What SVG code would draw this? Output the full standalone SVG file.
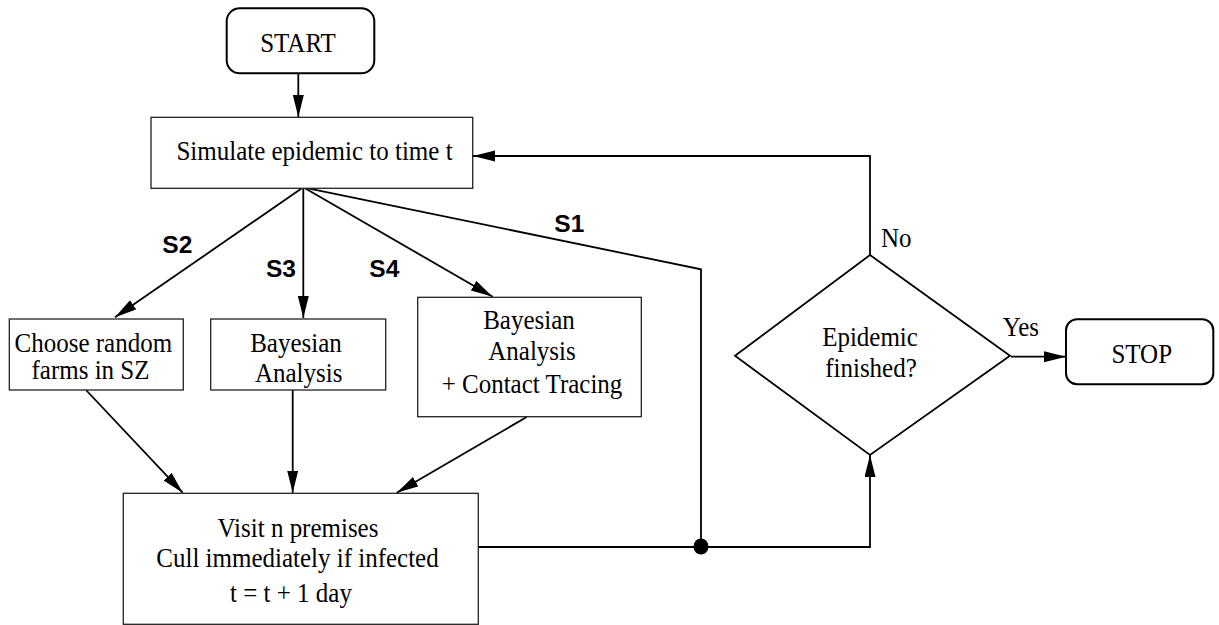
<svg xmlns="http://www.w3.org/2000/svg" width="1219" height="625" viewBox="0 0 1219 625">
<defs>
<marker id="arr" markerUnits="userSpaceOnUse" markerWidth="23" markerHeight="12" refX="22" refY="5.5" orient="auto">
<path d="M0,0 L22,5.5 L0,11 z" fill="#000"/>
</marker>
</defs>
<style>
.box{fill:#fff;stroke:#222;stroke-width:1.3}
.rbox{fill:#fff;stroke:#000;stroke-width:2}
.dia{fill:#fff;stroke:#000;stroke-width:1.8}
.t{font-family:"Liberation Serif","Times New Roman",serif;font-size:25px;fill:#000;text-anchor:middle}
.ts{font-family:"Liberation Serif","Times New Roman",serif;font-size:25px;fill:#000}
.lab{font-family:"Liberation Sans",Arial,sans-serif;font-size:24.5px;font-weight:bold;fill:#000}
.c{fill:none;stroke:#000;stroke-width:1.8}
</style>
<rect width="1219" height="625" fill="#fff"/>
<g id="connectors">
<path class="c" d="M298.3,73.3 V117" marker-end="url(#arr)"/>
<path class="c" d="M303.3,187.3 L115,317.3" marker-end="url(#arr)"/>
<path class="c" d="M303.3,187.3 V318" marker-end="url(#arr)"/>
<path class="c" d="M303.3,187.3 L492.7,296.7" marker-end="url(#arr)"/>
<path class="c" d="M303.3,187.3 L701,269.3 V547"/>
<path class="c" d="M86,390 L182.7,492.7" marker-end="url(#arr)"/>
<path class="c" d="M292.7,390 V492.7" marker-end="url(#arr)"/>
<path class="c" d="M526.7,417 L396.7,492.7" marker-end="url(#arr)"/>
<path class="c" d="M478,547 H870 V455" marker-end="url(#arr)"/>
<path class="c" d="M870,255 V156 H473" marker-end="url(#arr)"/>
<path class="c" d="M1011,356.7 H1066" marker-end="url(#arr)"/>
<ellipse cx="701" cy="546.5" rx="7.5" ry="8" fill="#000"/>
<text class="lab" x="162.3" y="253.3">S2</text>
<text class="lab" x="266" y="276.7">S3</text>
<text class="lab" x="369.3" y="276.7">S4</text>
<text class="lab" x="554.3" y="231.7">S1</text>
<text class="ts" transform="translate(881,247.3) scale(1,1.08)">No</text>
<text class="ts" transform="translate(1002.7,336) scale(1,1.08)">Yes</text>
</g>
<g id="start">
<rect class="rbox" x="226.7" y="8.3" width="147.6" height="65" rx="13"/>
<text class="t" transform="translate(298,51.7) scale(1,1.08)">START</text>
</g>
<g id="simulate">
<rect class="box" x="151" y="117.3" width="321.7" height="71"/>
<text class="t" transform="translate(314.5,160) scale(1,1.08)">Simulate epidemic to time t</text>
</g>
<g id="choose">
<rect class="box" x="9.3" y="319" width="174" height="71"/>
<text class="t" transform="translate(93.3,351.7) scale(1,1.08)">Choose random</text>
<text class="t" transform="translate(90.5,379) scale(1,1.08)">farms in SZ</text>
</g>
<g id="bayes">
<rect class="box" x="210.7" y="319" width="175" height="71"/>
<text class="t" transform="translate(296,351.7) scale(1,1.08)">Bayesian</text>
<text class="t" transform="translate(298.7,382) scale(1,1.08)">Analysis</text>
</g>
<g id="bayesct">
<rect class="box" x="417.7" y="297.3" width="223.6" height="119.4"/>
<text class="t" transform="translate(529,329) scale(1,1.08)">Bayesian</text>
<text class="t" transform="translate(532,360) scale(1,1.08)">Analysis</text>
<text class="t" transform="translate(532,393.3) scale(1,1.08)">+ Contact Tracing</text>
</g>
<g id="visit">
<rect class="box" x="123.3" y="493.3" width="355" height="131"/>
<text class="t" transform="translate(298,536.7) scale(1,1.08)">Visit n premises</text>
<text class="t" transform="translate(297.5,567.3) scale(1,1.08)">Cull immediately if infected</text>
<text class="t" transform="translate(291,601.5) scale(1,1.08)">t = t + 1 day</text>
</g>
<g id="decision">
<polygon class="dia" points="870,255 1010,355.7 870,455 735,355.7"/>
<text class="t" transform="translate(870,345.7) scale(1,1.08)">Epidemic</text>
<text class="t" transform="translate(871,376.7) scale(1,1.08)">finished?</text>
</g>
<g id="stop">
<rect class="rbox" x="1066" y="319.3" width="147.3" height="65" rx="11"/>
<text class="t" transform="translate(1141.7,363.3) scale(1,1.08)">STOP</text>
</g>
</svg>
